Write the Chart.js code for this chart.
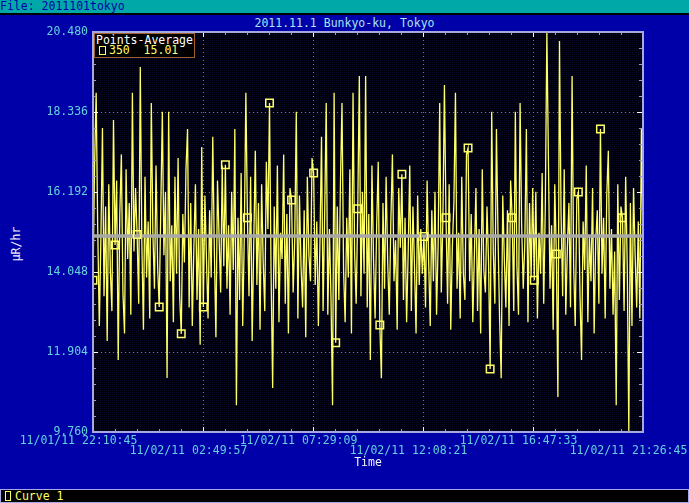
<!DOCTYPE html>
<html>
<head>
<meta charset="utf-8">
<title>2011.11.1 Bunkyo-ku, Tokyo</title>
<script src="https://cdn.jsdelivr.net/npm/chart.js@4.4.0/dist/chart.umd.min.js"></script>
<style>
  body { margin: 0; background: #0000a8; }
  #wrap { position: relative; width: 689px; height: 503px; overflow: hidden; background: #0000a8;
          font-family: "DejaVu Sans Mono", monospace; font-size: 11.5px; }
  #filebar { position: absolute; left: 0; top: 0; width: 689px; height: 13px; background: #00a8a8;
             color: #0000a8; line-height: 12px; border-bottom: 2px solid #000; white-space: pre; }
  #title { position: absolute; left: 0; top: 16px; width: 689px; text-align: center; color: #a8e4f0;
           line-height: 14px; white-space: pre; }
  #ytitle { position: absolute; left: -14px; top: 237px; width: 60px; text-align: center; color: #f0f0ff;
            line-height: 14px; transform: rotate(-90deg); white-space: pre; }
  canvas { position: absolute; left: 0; top: 0; }
  #legend { position: absolute; left: 94px; top: 33px; width: 99px; height: 23px; background: #000;
            border: 1px solid #a0602a; white-space: pre; line-height: 10px; }
  #legend .head { color: #ffffff; padding: 1px 0 0 1px; }
  #legend .row { color: #ffff66; padding-left: 14px; position: relative; }
  #legend .box { position: absolute; left: 4px; top: 1px; width: 5px; height: 7px; border: 1px solid #ffff66; }
  #curvebar { position: absolute; left: 0; top: 489px; width: 687px; height: 12px; background: #000;
              border: 1px solid #a8a8e8; color: #ffff66; line-height: 12px; white-space: pre; }
  #curvebar .box { position: absolute; left: 4px; top: 1px; width: 4px; height: 8px; border: 1px solid #ffff66; }
  #curvebar .txt { position: absolute; left: 14px; top: 0; }
</style>
</head>
<body>
<div id="wrap">
  <div id="filebar">File: 2011101tokyo</div>
  <div id="title">2011.11.1 Bunkyo-ku, Tokyo</div>
  <div id="ytitle">μR/hr</div>
  <canvas id="myChart" width="689" height="503"></canvas>
  <div id="legend"><div class="head">Points-Average</div><div class="row"><span class="box"></span>350  15.01</div></div>
  <div id="curvebar"><span class="box"></span><span class="txt">Curve 1</span></div>
</div>
<script>
// --- data ---
var sampleSeconds = 240;   // one reading every 4 minutes
var xTickSeconds = [0, 16752, 33504, 50256, 67008, 83760];
var xTickLabels = ['11/01/11 22:10:45', '11/02/11 02:49:57', '11/02/11 07:29:09',
                   '11/02/11 12:08:21', '11/02/11 16:47:33', '11/02/11 21:26:45'];
var yTicks = [9.760, 11.904, 14.048, 16.192, 18.336, 20.480];
var average = 15.01;
var markerEvery = 14;

// uR/hr, 350 readings (14 per row)
var doseRate = [
  13.83, 16.90, 18.85, 15.20, 12.60, 14.90, 17.91, 13.40, 15.80, 12.20, 16.40, 14.10, 13.00, 18.12,
  14.77, 16.50, 11.69, 15.60, 17.20, 13.50, 12.40, 16.80, 14.40, 15.90, 12.90, 18.85, 14.60, 16.30,
  15.05, 13.20, 19.54, 14.80, 12.50, 16.60, 13.90, 15.40, 12.80, 18.58, 15.10, 13.60, 16.90, 14.20,
  13.11, 15.70, 18.34, 14.50, 16.20, 11.21, 18.34, 13.80, 15.30, 12.70, 16.60, 14.00, 17.10, 13.40,
  12.39, 15.60, 14.30, 16.80, 17.88, 13.10, 15.90, 12.60, 14.70, 16.40, 13.30, 15.20, 12.10, 17.40,
  13.11, 16.10, 14.40, 12.80, 15.70, 13.90, 17.67, 14.60, 12.30, 16.50, 15.00, 13.50, 16.90, 14.20,
  16.92, 13.60, 15.30, 12.90, 16.20, 14.10, 17.88, 10.48, 15.50, 13.30, 16.70, 12.60, 15.00, 18.85,
  15.50, 13.40, 16.60, 12.20, 14.80, 17.30, 13.70, 15.90, 12.50, 16.40, 14.30, 13.00, 17.00, 15.20,
  18.58, 14.00, 10.94, 15.80, 13.60, 16.90, 12.70, 15.10, 14.40, 17.20, 13.20, 15.60, 12.40, 16.30,
  15.98, 13.50, 14.90, 18.34, 12.80, 16.10, 14.20, 13.10, 15.70, 12.30, 16.60, 14.50, 13.80, 17.10,
  16.70, 13.70, 15.40, 12.60, 14.80, 17.67, 13.00, 15.60, 18.58, 12.90, 15.20, 13.40, 10.48, 18.85,
  12.15, 15.80, 13.30, 16.40, 18.58, 14.10, 12.70, 15.50, 13.90, 16.80, 12.40, 18.85, 14.60, 13.20,
  15.74, 19.30, 13.40, 16.20, 14.00, 19.30, 13.10, 15.60, 11.69, 16.90, 14.40, 12.80, 15.30, 17.00,
  12.63, 11.20, 15.90, 13.60, 16.60, 14.30, 12.90, 15.40, 17.20, 13.80, 14.90, 12.50, 16.30, 14.70,
  16.67, 13.30, 15.50, 12.70, 14.60, 16.90, 13.00, 15.80, 14.20, 12.40, 16.10, 13.70, 15.20, 14.00,
  15.00, 13.10, 16.50, 14.30, 12.60, 15.70, 13.80, 16.20, 12.90, 14.80, 18.58, 13.50, 15.40, 19.06,
  15.50, 13.20, 16.40, 12.50, 14.70, 15.90, 18.85, 13.60, 15.10, 12.80, 16.60, 14.00, 13.30, 17.20,
  17.37, 13.80, 15.60, 12.70, 14.50, 16.30, 13.00, 15.20, 12.40, 16.80, 14.10, 13.50, 15.80, 14.30,
  11.45, 18.34, 14.60, 13.20, 17.88, 15.00, 12.80, 11.20, 16.10, 14.40, 13.10, 15.70, 12.60, 16.50,
  15.50, 13.00, 18.34, 14.20, 12.90, 18.58, 15.30, 13.60, 14.80, 17.88, 12.70, 15.90, 13.90, 16.30,
  13.83, 16.20, 12.80, 15.10, 14.00, 16.70, 13.20, 15.80, 20.48, 17.00, 13.60, 15.30, 12.50, 16.40,
  14.53, 10.70, 20.24, 15.60, 13.40, 16.80, 12.90, 14.70, 15.90, 13.10, 19.30, 14.20, 12.60, 16.00,
  16.19, 13.50, 11.69, 15.40, 14.10, 16.90, 12.70, 15.00, 13.80, 16.30, 12.40, 14.90, 15.70, 13.20,
  17.88, 14.00, 15.50, 12.80, 16.10, 17.30, 13.60, 15.20, 12.90, 14.60, 10.48, 16.40, 13.30, 15.80,
  15.50, 13.00, 16.60, 14.20, 9.78, 15.90, 12.60, 16.30, 14.50, 13.10, 15.40, 12.80, 17.91, 14.60
];

var fontFamily = "'DejaVu Sans Mono', monospace";
var tickColor = '#62d2dc';

// table the library needs
var points = doseRate.map(function(v, i) { return { x: i * sampleSeconds, y: v }; });
var lastX = xTickSeconds[xTickSeconds.length - 1];
var avgLine = [{ x: 0, y: average }, { x: lastX, y: average }];

// dark dotted background of the plot
var dot = document.createElement('canvas');
dot.width = 2; dot.height = 2;
var dctx = dot.getContext('2d');
dctx.fillStyle = '#000002'; dctx.fillRect(0, 0, 2, 2);
dctx.fillStyle = '#080828'; dctx.fillRect(0, 0, 1, 1);

function hline(ctx, x1, x2, y) { ctx.beginPath(); ctx.moveTo(x1, y); ctx.lineTo(x2, y); ctx.stroke(); }
function vline(ctx, x, y1, y2) { ctx.beginPath(); ctx.moveTo(x, y1); ctx.lineTo(x, y2); ctx.stroke(); }

var frame = {
  id: 'frame',
  beforeDatasetsDraw: function(chart) {
    var ctx = chart.ctx, a = chart.chartArea, sx = chart.scales.x, sy = chart.scales.y;
    ctx.save();
    ctx.fillStyle = ctx.createPattern(dot, 'repeat');
    ctx.fillRect(a.left, a.top, a.right - a.left, a.bottom - a.top);
    ctx.lineWidth = 1;
    ctx.setLineDash([1, 3]);
    ctx.strokeStyle = '#3f8fa8';
    xTickSeconds.slice(1, -1).forEach(function(v) {
      vline(ctx, Math.round(sx.getPixelForValue(v)) + 0.5, a.top, a.bottom);
    });
    ctx.strokeStyle = '#45958a';
    yTicks.slice(1, -1).forEach(function(v) {
      hline(ctx, a.left, a.right, Math.round(sy.getPixelForValue(v)) + 0.5);
    });
    ctx.restore();
  },
  afterDatasetsDraw: function(chart) {
    var ctx = chart.ctx, a = chart.chartArea, sx = chart.scales.x, sy = chart.scales.y;
    ctx.save();
    ctx.lineWidth = 1;
    // minor ticks, 5 per major
    ctx.strokeStyle = '#9c9cd8';
    for (var i = 0; i < xTickSeconds.length - 1; i++) {
      for (var k = 1; k < 5; k++) {
        var px = Math.round(sx.getPixelForValue(xTickSeconds[i] + (xTickSeconds[i + 1] - xTickSeconds[i]) * k / 5)) + 0.5;
        vline(ctx, px, a.top, a.top + 3);
        vline(ctx, px, a.bottom, a.bottom - 3);
      }
    }
    for (var j = 0; j < yTicks.length - 1; j++) {
      for (var m = 1; m < 5; m++) {
        var py = Math.round(sy.getPixelForValue(yTicks[j] + (yTicks[j + 1] - yTicks[j]) * m / 5)) + 0.5;
        hline(ctx, a.left, a.left + 3, py);
        hline(ctx, a.right, a.right - 4, py);
      }
    }
    // major ticks
    ctx.strokeStyle = '#ffffff';
    xTickSeconds.slice(1, -1).forEach(function(v) {
      var px = Math.round(sx.getPixelForValue(v)) + 0.5;
      vline(ctx, px, a.top, a.top + 5);
      vline(ctx, px, a.bottom, a.bottom - 5);
    });
    yTicks.slice(1, -1).forEach(function(v) {
      var py = Math.round(sy.getPixelForValue(v)) + 0.5;
      hline(ctx, a.left, a.left + 5, py);
      hline(ctx, a.right, a.right - 6, py);
    });
    // frame
    ctx.strokeStyle = '#a8a8e0';
    ctx.lineWidth = 2;
    ctx.strokeRect(a.left, a.top, a.right - a.left, a.bottom - a.top);
    ctx.restore();
  }
};

var myChart = new Chart(document.getElementById('myChart'), {
  type: 'line',
  data: {
    datasets: [{
      label: 'markers',
      data: points,
      showLine: false,
      pointStyle: 'rect',
      pointRadius: function(c) { return c.dataIndex % markerEvery === 0 && c.dataIndex < doseRate.length - 1 ? 5.3 : 0; },
      pointBorderColor: '#ffff66',
      pointBackgroundColor: 'rgba(0,0,0,0)',
      pointBorderWidth: 1.5
    }, {
      label: 'average',
      data: avgLine,
      borderColor: '#a8a8a8',
      borderWidth: 3.5,
      pointRadius: 0
    }, {
      label: 'Curve 1',
      data: points,
      borderColor: '#ffff66',
      borderWidth: 1.3,
      pointRadius: 0,
      tension: 0
    }]
  },
  options: {
    responsive: false,
    animation: false,
    devicePixelRatio: 1,
    layout: { padding: { top: 32, right: 46, bottom: 33, left: 0 } },
    plugins: { legend: { display: false }, tooltip: { enabled: false } },
    scales: {
      x: {
        type: 'linear',
        min: 0,
        max: lastX,
        afterBuildTicks: function(s) { s.ticks = xTickSeconds.map(function(v) { return { value: v }; }); },
        afterFit: function(s) { s.height = 38; s.paddingLeft = 0; s.paddingRight = 0; },
        grid: { display: false, drawTicks: false },
        border: { display: false },
        ticks: {
          autoSkip: false, maxRotation: 0, minRotation: 0,
          labelOffset: -14.5, padding: 4,
          color: tickColor,
          font: { family: fontFamily, size: 11.5, lineHeight: 0.85 },
          callback: function(v, i) { return i % 2 === 0 ? [xTickLabels[i]] : ['', xTickLabels[i]]; }
        },
        title: { display: true, text: 'Time', color: '#f0f0ff', padding: 0,
                 font: { family: fontFamily, size: 11.5 } }
      },
      y: {
        min: yTicks[0],
        max: yTicks[yTicks.length - 1],
        afterBuildTicks: function(s) { s.ticks = yTicks.map(function(v) { return { value: v }; }); },
        afterFit: function(s) { s.width = 93; },
        grid: { display: false, drawTicks: false },
        border: { display: false },
        ticks: {
          padding: 5,
          color: tickColor,
          font: { family: fontFamily, size: 11.5 },
          callback: function(v) { return Number(v).toFixed(3); }
        }
      }
    }
  },
  plugins: [frame]
});
</script>
</body>
</html>
